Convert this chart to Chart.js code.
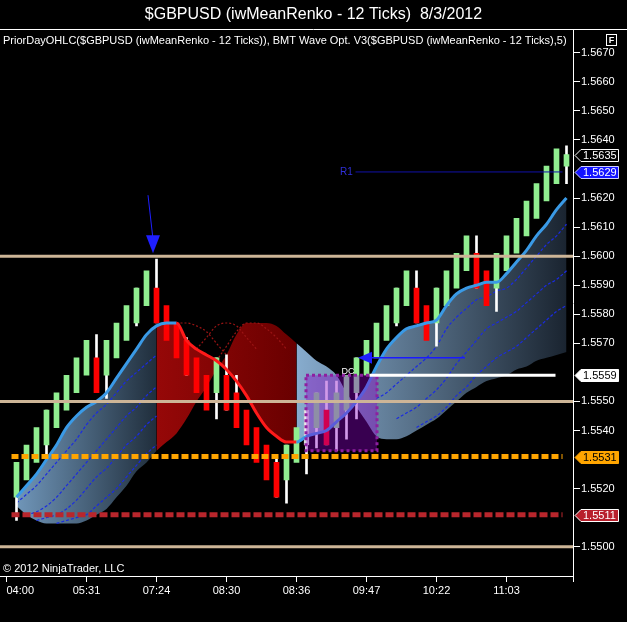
<!DOCTYPE html>
<html lang="en">
<head>
<meta charset="UTF-8">
<title>$GBPUSD (iwMeanRenko - 12 Ticks) 8/3/2012</title>
<script src="https://cdn.jsdelivr.net/npm/chart.js"></script>
<style>
  html, body { margin: 0; padding: 0; background: #000; }
  #chart { display: block; }
</style>
</head>
<body>
<canvas id="chart" width="627" height="622"></canvas>
<script>
// ---- data ----
const timeLabels = ['04:00', '05:31', '07:24', '08:30', '08:36', '09:47', '10:22', '11:03'];
const tickBars = [-1, 7, 14, 21, 28, 35, 42, 49];
const yTicks = [1.5500, 1.5510, 1.5520, 1.5530, 1.5540, 1.5550, 1.5560, 1.5570, 1.5580,
                1.5590, 1.5600, 1.5610, 1.5620, 1.5630, 1.5640, 1.5650, 1.5660, 1.5670];

// renko bricks, one per bar (open -> close)
const brickOpen = [1.5517,1.5523,1.5529,1.5535,1.5541,1.5547,1.5553,1.5559,1.5565,1.5559,
                   1.5565,1.5571,1.5577,1.5583,1.5589,1.5583,1.5577,1.5571,1.5565,1.5559,
                   1.5553,1.5559,1.5553,1.5547,1.5541,1.5535,1.5529,1.5523,1.5529,1.5535,
                   1.5541,1.5547,1.5541,1.5547,1.5553,1.5559,1.5565,1.5571,1.5577,1.5583,
                   1.5589,1.5583,1.5577,1.5583,1.5589,1.5595,1.5601,1.5595,1.5589,1.5595,
                   1.5601,1.5607,1.5613,1.5619,1.5625,1.5631];
const brickClose = [1.5529,1.5535,1.5541,1.5547,1.5553,1.5559,1.5565,1.5571,1.5553,1.5571,
                    1.5577,1.5583,1.5589,1.5595,1.5577,1.5571,1.5565,1.5559,1.5553,1.5547,
                    1.5565,1.5547,1.5541,1.5535,1.5529,1.5523,1.5517,1.5535,1.5541,1.5547,
                    1.5553,1.5535,1.5553,1.5559,1.5565,1.5571,1.5577,1.5583,1.5589,1.5595,
                    1.5577,1.5571,1.5589,1.5595,1.5601,1.5607,1.5589,1.5583,1.5601,1.5607,
                    1.5613,1.5619,1.5625,1.5631,1.5637,1.5635];
const wickLow = [1.5509,null,null,1.5532,null,null,null,null,null,1.5551,
                 null,null,1.5576,null,null,null,null,null,null,null,
                 1.5544,null,null,null,null,null,null,1.5515,null,1.5525,
                 1.5534,null,1.5533,1.5537,1.5544,null,null,null,1.5576,null,
                 null,null,1.5569,null,null,null,null,null,1.5581,null,
                 null,null,null,null,null,1.5625];
const wickHigh = [null,null,null,null,null,null,null,null,1.5573,null,
                  null,null,null,null,1.5599,null,null,1.5572,null,null,
                  null,1.5566,1.5559,null,null,null,1.5531,null,null,null,
                  null,1.5557,1.5557,null,null,null,null,null,null,null,
                  1.5595,null,null,null,null,null,1.5607,null,null,null,
                  null,null,null,null,null,1.5638];
const hollowBricks = [29];

// BMT wave: main line and its lagging band edge
const waveLine = [1.5517,1.5521,1.5525,1.5530,1.5535,1.5541,1.5545,1.5548,1.5550,1.5553,
                  1.5558,1.5563,1.5568,1.5573,1.5576,1.5577,1.5577,1.5571,1.5568,1.5566,
                  1.5564,1.5561,1.5557,1.5552,1.5546,1.5541,1.5538,1.5536,1.5536,1.5538,
                  1.5539,1.5540,1.5543,1.5546,1.5550,1.5555,1.5562,1.5568,1.5572,1.5575,
                  1.5576,1.5577,1.5578,1.5583,1.5587,1.5589,1.5590,1.5591,1.5591,1.5594,
                  1.5598,1.5602,1.5607,1.5611,1.5616,1.5620];
const waveLag = [1.5514,1.5511,1.5509,1.5508,1.5508,1.5508,1.5508,1.5509,1.5511,1.5513,
                 1.5517,1.5521,1.5526,1.5529,1.5533,1.5536,1.5539,1.5544,1.5550,1.5555,
                 1.5561,1.5566,1.5573,1.5577,1.5577,1.5577,1.5576,1.5573,1.5570,1.5567,
                 1.5564,1.5562,1.5559,1.5553,1.5548,1.5543,1.5538,1.5537,1.5537,1.5538,
                 1.5540,1.5542,1.5544,1.5547,1.5550,1.5553,1.5555,1.5557,1.5558,1.5559,
                 1.5561,1.5562,1.5564,1.5565,1.5566,1.5567];
const downSwing = [16, 28];
const bandUpA = [0, 14];
const bandDown = [14, 28];
const bandUpB = [28, 55];

// dashed fan lines inside the bands (first bar, then values)
const fanStarts = [0, 1, 2, 4, 36, 38, 40];
const fanA1 = [1.5515,1.5518,1.5521,1.5525,1.5529,1.5533,1.5537,1.5542,1.5546,1.5549,1.5553,1.5557,1.5560,1.5563,1.5566];
const fanA2 = [1.5511,1.5512,1.5514,1.5517,1.5521,1.5525,1.5529,1.5533,1.5537,1.5541,1.5545,1.5548,1.5552,1.5555];
const fanA3 = [1.5509,1.5510,1.5511,1.5513,1.5516,1.5520,1.5524,1.5527,1.5531,1.5535,1.5538,1.5542,1.5545];
const fanA4 = [1.5508,1.5509,1.5510,1.5511,1.5514,1.5517,1.5520,1.5524,1.5528,1.5532,1.5535];
const fanB1 = [1.5551,1.5553,1.5556,1.5559,1.5562,1.5565,1.5569,1.5575,1.5579,1.5582,
               1.5585,1.5586,1.5588,1.5589,1.5592,1.5596,1.5600,1.5604,1.5607,1.5611];
const fanB2 = [1.5544,1.5546,1.5548,1.5551,1.5554,1.5558,1.5563,1.5567,1.5571,1.5575,
               1.5577,1.5579,1.5581,1.5584,1.5587,1.5590,1.5592,1.5595];
const fanB3 = [1.5541,1.5543,1.5545,1.5548,1.5552,1.5555,1.5559,1.5562,1.5565,1.5567,
               1.5569,1.5572,1.5575,1.5578,1.5581,1.5583];
// dotted arcs of the down swing
const arcStarts = [16, 18, 20];
const arcR1 = [1.5577,1.5577,1.5576,1.5574,1.5570,1.5566];
const arcR2 = [1.5568,1.5572,1.5576,1.5577,1.5576,1.5572,1.5568];
const arcR3 = [1.5564,1.5569,1.5574,1.5577,1.5577,1.5575,1.5572,1.5568];

// horizontal levels
const priorDayLevels = [1.5600, 1.5550, 1.5500];
const pivotLevels = [1.5531, 1.5511];
const signalLevel = 1.5559;
const r1Level = 1.5629;
const arrowLevel = 1.5565;
const markerPrices = [1.5635, 1.5629, 1.5559, 1.5531, 1.5511];
const boxBars = [28.95, 36.05];
const boxPrices = [1.5533, 1.5559];

const FONT = '"Liberation Sans", Arial, sans-serif';
Chart.defaults.font.family = FONT;
Chart.defaults.color = '#fff';

function hLine(level, from, to, color, width, dash) {
  return {
    type: 'line',
    data: [{x: from, y: level}, {x: to, y: level}],
    borderColor: color, borderWidth: width, borderDash: dash || [],
    pointRadius: 0, fill: false, tension: 0, order: 1
  };
}

function bandFill(range, c0, c1) {
  return function(ctx) {
    const chart = ctx.chart;
    if (!chart.chartArea) return c0;
    const xs = chart.scales.x;
    const g = chart.ctx.createLinearGradient(xs.getPixelForValue(range[0]), 0, xs.getPixelForValue(range[1]), 0);
    g.addColorStop(0, c0);
    g.addColorStop(1, c1);
    return g;
  };
}

function band(range, bg) {
  return {
    type: 'line',
    data: waveLag.map((v, i) => ({x: i, y: (i >= range[0] && i <= range[1]) ? v : null})),
    borderWidth: 0, pointRadius: 0, cubicInterpolationMode: 'monotone',
    spanGaps: false, fill: 0, backgroundColor: bg, order: 10
  };
}

function fan(values, start, color, dash) {
  return {
    type: 'line',
    data: values.map((v, k) => ({x: start + k, y: v})),
    borderColor: color, borderWidth: 1.2, borderDash: dash,
    pointRadius: 0, cubicInterpolationMode: 'monotone', fill: false, order: 9
  };
}

const isHollow = i => hollowBricks.indexOf(i) >= 0;
const nearMarker = v => markerPrices.some(p => Math.abs(p - v) < 0.00015);

const overlay = {
  id: 'ninjaOverlay',
  afterDatasetDraw(chart, args) {
    if (args.index !== 1) return;
    const {ctx, scales: {x, y}} = chart;
    ctx.save();
    ctx.font = '9px ' + FONT;
    ctx.fillStyle = '#fff';
    ctx.textBaseline = 'bottom';
    ctx.fillText('DC', x.getPixelForValue(32.5), y.getPixelForValue(1.5559) + 1);
    const x0 = x.getPixelForValue(boxBars[0]), x1 = x.getPixelForValue(boxBars[1]);
    const y0 = y.getPixelForValue(boxPrices[1]), y1 = y.getPixelForValue(boxPrices[0]);
    ctx.fillStyle = 'rgba(140,0,200,0.4)';
    ctx.fillRect(x0, y0, x1 - x0, y1 - y0);
    ctx.setLineDash([3, 3]);
    ctx.lineWidth = 3;
    ctx.strokeStyle = '#8e1fa0';
    ctx.strokeRect(x0, y0, x1 - x0, y1 - y0);
    ctx.restore();
  },
  afterDraw(chart) {
    const {ctx, chartArea: area, scales: {x, y}} = chart;
    ctx.save();
    // frame line under the title
    ctx.strokeStyle = '#fff';
    ctx.lineWidth = 1;
    ctx.beginPath();
    ctx.moveTo(0, Math.round(area.top) - 0.5);
    ctx.lineTo(chart.width, Math.round(area.top) - 0.5);
    ctx.stroke();

    ctx.fillStyle = '#fff';
    ctx.font = '11px ' + FONT;
    ctx.textBaseline = 'middle';
    ctx.textAlign = 'left';
    ctx.fillText('PriorDayOHLC($GBPUSD (iwMeanRenko - 12 Ticks)), BMT Wave Opt. V3($GBPUSD (iwMeanRenko - 12 Ticks),5)', 3, area.top + 11);
    ctx.fillText('\u00A9 2012 NinjaTrader, LLC', 3, area.bottom - 7);

    // "F" box
    ctx.strokeRect(606.5, 34.5, 10, 11);
    ctx.font = 'bold 9px ' + FONT;
    ctx.textAlign = 'center';
    ctx.fillText('F', 611.5, 40.5);

    // R1 label
    ctx.textAlign = 'left';
    ctx.font = '10px ' + FONT;
    ctx.fillStyle = '#2f2fd8';
    ctx.fillText('R1', x.getPixelForValue(32.35), y.getPixelForValue(r1Level));

    // down arrow
    ctx.strokeStyle = '#1f1fff';
    ctx.fillStyle = '#1f1fff';
    ctx.lineWidth = 1;
    const ax0 = x.getPixelForValue(13.15), ay0 = y.getPixelForValue(1.5621);
    const ax1 = x.getPixelForValue(13.65), ay1 = y.getPixelForValue(1.5601);
    ctx.beginPath(); ctx.moveTo(ax0, ay0); ctx.lineTo(ax1, ay1 - 14); ctx.stroke();
    ctx.beginPath(); ctx.moveTo(ax1, ay1); ctx.lineTo(ax1 - 7, ay1 - 18); ctx.lineTo(ax1 + 7, ay1 - 18); ctx.closePath(); ctx.fill();

    // left arrow
    const lx = x.getPixelForValue(34.15), ly = y.getPixelForValue(arrowLevel);
    ctx.beginPath(); ctx.moveTo(lx, ly); ctx.lineTo(lx + 14, ly - 6); ctx.lineTo(lx + 14, ly + 6); ctx.closePath(); ctx.fill();

    // price markers on the axis
    const styles = [
      {fill: '#000', edge: '#fff', text: '#fff'},
      {fill: '#1414ff', edge: '#d0d0ff', text: '#fff'},
      {fill: '#fff', edge: '#fff', text: '#000'},
      {fill: '#ffa500', edge: '#ffa500', text: '#000'},
      {fill: '#b8202c', edge: '#fff', text: '#fff'}
    ];
    ctx.font = '11px ' + FONT;
    markerPrices.forEach((p, k) => {
      const yy = Math.round(y.getPixelForValue(p)) + 0.5;
      const st = styles[k];
      const left = area.right + 2;
      ctx.beginPath();
      ctx.moveTo(left, yy);
      ctx.lineTo(left + 6, yy - 6);
      ctx.lineTo(618.5, yy - 6);
      ctx.lineTo(618.5, yy + 6);
      ctx.lineTo(left + 6, yy + 6);
      ctx.closePath();
      ctx.fillStyle = st.fill;
      ctx.fill();
      ctx.strokeStyle = st.edge;
      ctx.stroke();
      ctx.fillStyle = st.text;
      ctx.fillText(p.toFixed(4), left + 8, yy + 0.5);
    });
    ctx.restore();
  }
};

const datasets = [
  // 0: plain copy of the wave, used as the fill target
  {
    type: 'line',
    data: waveLine.map((v, i) => ({x: i, y: v})),
    borderWidth: 0, borderColor: 'rgba(0,0,0,0)', pointRadius: 0,
    cubicInterpolationMode: 'monotone', fill: false, order: 11
  },
  // 1: visible wave, blue up / red down
  {
    type: 'line',
    data: waveLine.map((v, i) => ({x: i, y: v})),
    borderColor: '#3a9ae6', borderWidth: 3, pointRadius: 0,
    cubicInterpolationMode: 'monotone', fill: false, order: 6,
    segment: {
      borderColor: c => (c.p0DataIndex >= downSwing[0] && c.p0DataIndex < downSwing[1]) ? '#ff1a1a' : '#3a9ae6'
    }
  },
  band(bandUpA, bandFill(bandUpA, 'rgb(112,150,185)', 'rgb(32,46,60)')),
  band(bandDown, bandFill(bandDown, 'rgb(150,8,8)', 'rgb(105,0,0)')),
  band(bandUpB, bandFill(bandUpB, 'rgb(135,172,206)', 'rgb(26,36,48)')),
  ...[fanA1, fanA2, fanA3, fanA4, fanB1, fanB2, fanB3].map((f, k) => fan(f, fanStarts[k], '#1a2be0', [3, 2])),
  ...[arcR1, arcR2, arcR3].map((f, k) => fan(f, arcStarts[k], '#9a1414', [2, 2])),
  {
    type: 'bar',
    data: brickOpen.map((o, i) => {
      const lo = Math.min(o, brickClose[i]), hi = Math.max(o, brickClose[i]);
      const none = wickLow[i] === null && wickHigh[i] === null;
      return {x: i, y: none ? null : [wickLow[i] ?? lo, wickHigh[i] ?? hi]};
    }),
    backgroundColor: '#fff', barThickness: 2, grouped: false, order: 8
  },
  {
    type: 'bar',
    data: brickOpen.map((o, i) => ({x: i, y: [o, brickClose[i]]})),
    backgroundColor: c => isHollow(c.dataIndex) ? 'rgba(0,0,0,0)' :
      (brickClose[c.dataIndex] > brickOpen[c.dataIndex] ? '#90ee90' : '#ff0000'),
    borderColor: c => isHollow(c.dataIndex) ? '#dcdcdc' : 'rgba(0,0,0,0)',
    borderWidth: c => isHollow(c.dataIndex) ? 1 : 0,
    borderSkipped: false, barThickness: 5, grouped: false, order: 7
  },
  ...priorDayLevels.map(v => hLine(v, -1.65, 55.65, '#cdb597', 3)),
  hLine(pivotLevels[0], -0.5, 54.6, '#ffa500', 5, [7, 3]),
  hLine(pivotLevels[1], -0.5, 54.6, '#b8262c', 5, [8, 3]),
  hLine(signalLevel, 35.3, 53.9, '#ffffff', 3),
  hLine(r1Level, 33.9, 54.6, '#1010a8', 1),
  hLine(arrowLevel, 35.3, 44.85, '#1a1aff', 1.5)
];

new Chart(document.getElementById('chart'), {
  type: 'bar',
  data: {datasets: datasets},
  plugins: [overlay],
  options: {
    responsive: false,
    animation: false,
    events: [],
    layout: {padding: 0},
    plugins: {
      legend: {display: false},
      tooltip: {enabled: false},
      title: {
        display: true,
        text: '$GBPUSD (iwMeanRenko - 12 Ticks)  8/3/2012',
        color: '#fff',
        font: {family: FONT, size: 16, weight: 'normal'},
        padding: {top: 5, bottom: 6}
      }
    },
    scales: {
      x: {
        type: 'linear', min: -1.65, max: 55.65, offset: false,
        afterBuildTicks: s => { s.ticks = tickBars.map(v => ({value: v})).concat([{value: 55.65}]); },
        afterFit: s => { s.height = 46; },
        ticks: {
          color: '#fff', font: {size: 11}, padding: 2, align: 'inner',
          maxRotation: 0, autoSkip: false,
          callback: v => { const k = tickBars.indexOf(v); return k >= 0 ? timeLabels[k] : ''; }
        },
        grid: {drawOnChartArea: false, color: '#fff', tickLength: 6, offset: false},
        border: {color: '#fff'}
      },
      y: {
        type: 'linear', position: 'right', min: 1.54899, max: 1.56778,
        afterBuildTicks: s => { s.ticks = yTicks.filter(v => !nearMarker(v)).map(v => ({value: v})); },
        afterFit: s => { s.width = 54; },
        ticks: {color: '#fff', font: {size: 11}, padding: 1, callback: v => v.toFixed(4)},
        grid: {drawOnChartArea: false, color: '#fff', tickLength: 7},
        border: {color: '#fff'}
      }
    }
  }
});
</script>
</body>
</html>
